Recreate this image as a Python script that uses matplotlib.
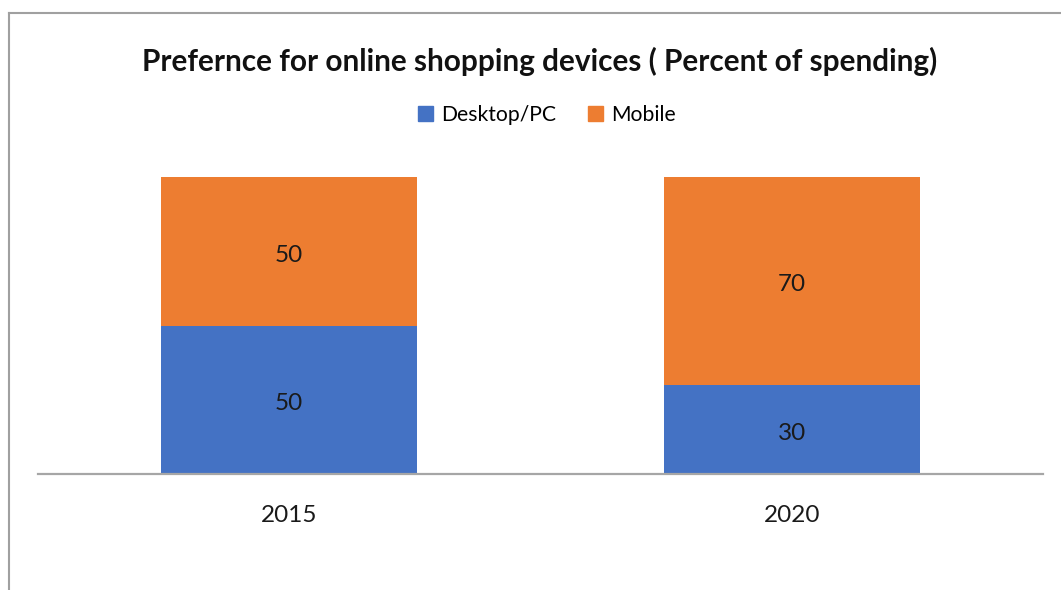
import matplotlib.pyplot as plt
from matplotlib.lines import Line2D
from matplotlib.patches import Patch

years = ['2015', '2020']
desktop = [50, 30]
mobile = [50, 70]

blue = '#4472C4'
orange = '#ED7D31'

plt.rcParams['font.family'] = ['Lato', 'DejaVu Sans']

fig = plt.figure(figsize=(10.61, 5.90), dpi=100)
W, H = 1061, 590
ax = fig.add_axes([38 / W, 1 - 474 / H, 1005 / W, 297 / H])

x = range(len(years))
b1 = ax.bar(x, desktop, width=0.51, color=blue)
b2 = ax.bar(x, mobile, width=0.51, bottom=desktop, color=orange)

for bars, vals, base in [(b1, desktop, [0, 0]), (b2, mobile, desktop)]:
    for rect, v, b in zip(bars, vals, base):
        ax.text(rect.get_x() + rect.get_width() / 2, b + v / 2 - 0.6, str(v),
                ha='center', va='center_baseline', fontsize=17.5, color='#1a1a1a')

ax.set_xlim(-0.5, 1.5)
ax.set_ylim(0, 100)
ax.set_xticks(list(x))
ax.set_xticklabels(years, fontsize=17.5, color='#1a1a1a')
ax.tick_params(axis='x', length=0, pad=22)
ax.set_yticks([])
for s in ['top', 'right', 'left']:
    ax.spines[s].set_visible(False)
ax.spines['bottom'].set_color('#A6A6A6')
ax.spines['bottom'].set_linewidth(1.6)

fig.text(540 / W, 1 - 61 / H, 'Prefernce for online shopping devices ( Percent of spending)',
         ha='center', va='center', fontsize=21.4, fontweight='bold', color='#111111')

handles = [Patch(color=blue, label='Desktop/PC'), Patch(color=orange, label='Mobile')]
fig.legend(handles=handles, loc='center', bbox_to_anchor=(547 / W, 1 - 115 / H), ncol=2,
           frameon=False, fontsize=15.2, handlelength=0.7, handleheight=0.7,
           handletextpad=0.4, columnspacing=1.5)

# outer frame of the chart area
fig.add_artist(Line2D([8.5 / W, 8.5 / W], [0, 1 - 12.5 / H], color='#A0A0A0', lw=1.5))
fig.add_artist(Line2D([8.5 / W, 1], [1 - 12.5 / H, 1 - 12.5 / H], color='#A0A0A0', lw=1.5))

fig.savefig('out.png', dpi=100, facecolor='white')
